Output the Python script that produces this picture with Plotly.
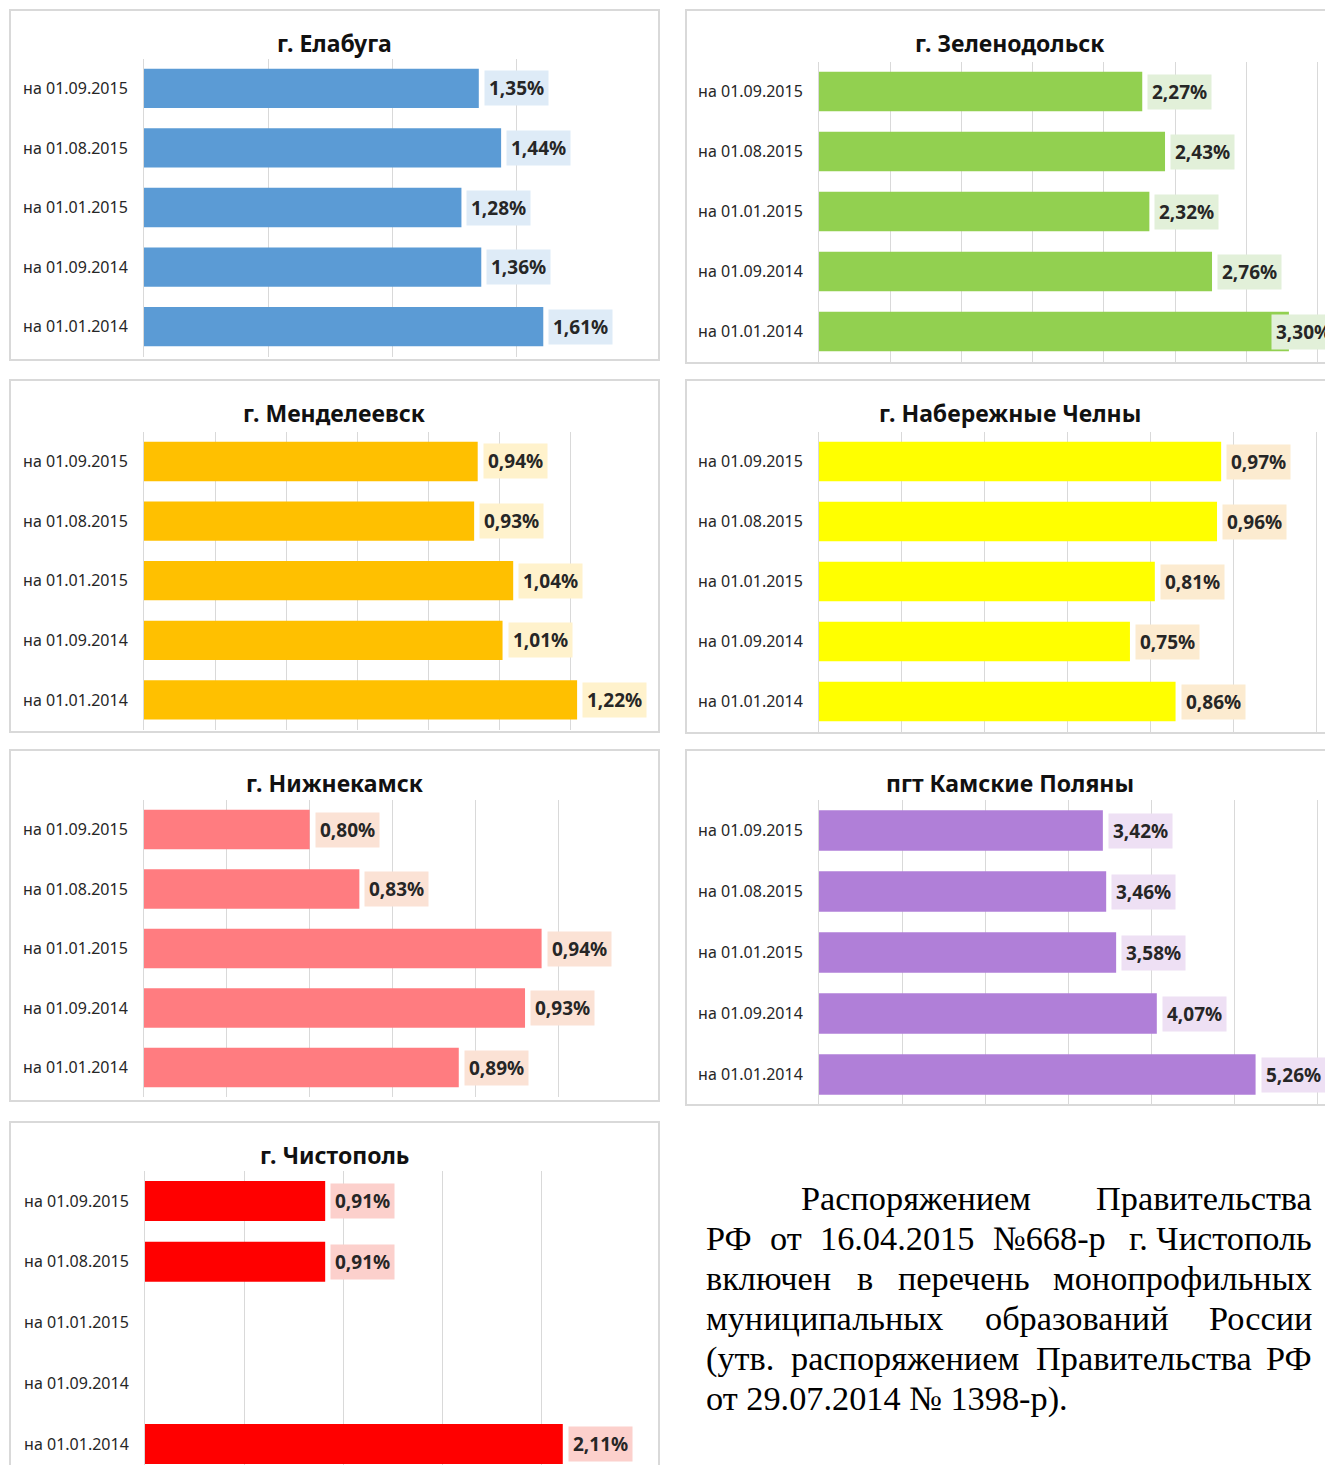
import plotly.graph_objects as go

W, H = 1325, 1465

# ---------------- data ----------------
categories = ["на 01.09.2015", "на 01.08.2015", "на 01.01.2015", "на 01.09.2014", "на 01.01.2014"]

titles = ["г. Елабуга", "г. Зеленодольск", "г. Менделеевск", "г. Набережные Челны",
          "г. Нижнекамск", "пгт Камские Поляны", "г. Чистополь"]

elabuga = [1.35, 1.44, 1.28, 1.36, 1.61]
zelenodolsk = [2.27, 2.43, 2.32, 2.76, 3.30]
mendeleevsk = [0.94, 0.93, 1.04, 1.01, 1.22]
chelny = [0.97, 0.96, 0.81, 0.75, 0.86]
nizhnekamsk = [0.80, 0.83, 0.94, 0.93, 0.89]
kamskie = [3.42, 3.46, 3.58, 4.07, 5.26]
chistopol = [0.91, 0.91, None, None, 2.11]

series = [elabuga, zelenodolsk, mendeleevsk, chelny, nizhnekamsk, kamskie, chistopol]

note_lines = [
    ["Распоряжением", "Правительства"],
    ["РФ", "от", "16.04.2015", "№668-р", "г.\u00a0Чистополь"],
    ["включен", "в", "перечень", "монопрофильных"],
    ["муниципальных", "образований", "России"],
    ["(утв.", "распоряжением", "Правительства", "РФ"],
    ["от 29.07.2014 № 1398-р)."],
]
note_justify = [True, True, True, True, True, False]

# ---------------- layout / styles (pixels) ----------------
bar_colors = ["#5B9BD5", "#92D050", "#FFC000", "#FFFF00", "#FF7C80", "#B07FD8", "#FF0000"]
label_bg = ["#DEEBF7", "#E2F0D9", "#FFF2CC", "#FCEBD0", "#FBE2D5", "#EEE0F4", "#FCD0CC"]

# chart-area right edge (px) used to keep data labels inside the chart, like Excel does
panels = [
    dict(px=(144, 640), py=(58.5, 356.5), xr=(0, 2.0), dt=0.5, yb=4.5, box=(10, 10, 659, 360), ty=43, edge=655),
    dict(px=(819, 1325), py=(61.5, 361.5), xr=(0, 506 / 142.4), dt=0.5, yb=4.5, box=(686, 10, 1345, 363), ty=43, edge=1336),
    dict(px=(144, 641), py=(431.7, 729.7), xr=(0, 1.4), dt=0.2, yb=4.5, box=(10, 380, 659, 732), ty=413, edge=655),
    dict(px=(819, 1325), py=(431.5, 731.5), xr=(0, 506 / 414.6), dt=0.2, yb=4.5, box=(686, 380, 1345, 733), ty=413, edge=1336),
    dict(px=(144, 641), py=(799.75, 1097.25), xr=(0.70, 1.00), dt=0.05, yb=4.5, box=(10, 750, 659, 1101), ty=783, edge=655),
    dict(px=(819, 1325), py=(800, 1105), xr=(0, 506 / 83.0), dt=1.0, yb=4.5, box=(686, 750, 1345, 1105), ty=783, edge=1336),
    dict(px=(145, 640), py=(1170.6, 1465), xr=(0, 2.5), dt=0.5, yb=-0.5 + (1465 - 1170.6) / 60.75,
         box=(10, 1122, 659, 1490), ty=1155, edge=655),
]
LABEL_W = 66  # approx. data-label box width in px

def fx(p):
    return p / W

def fy(p):
    return 1 - p / H

fig = go.Figure()
annotations = []
shapes = []
layout = {}

for i, (vals, pan) in enumerate(zip(series, panels)):
    n = "" if i == 0 else str(i + 1)
    xa, ya = "x" + n, "y" + n
    fig.add_trace(go.Bar(
        x=vals, y=categories, orientation="h", xaxis=xa, yaxis=ya,
        marker=dict(color=bar_colors[i], line=dict(width=0)),
        width=0.66, hoverinfo="skip", showlegend=False,
    ))
    layout["xaxis" + n] = dict(
        domain=[fx(pan["px"][0]), fx(pan["px"][1])], anchor=ya,
        range=list(pan["xr"]), tick0=0, dtick=pan["dt"], showticklabels=False,
        showgrid=True, gridcolor="#D9D9D9", gridwidth=1, zeroline=False, showline=False,
        fixedrange=True,
    )
    layout["yaxis" + n] = dict(
        domain=[fy(pan["py"][1]), fy(pan["py"][0])], anchor=xa,
        type="category", categoryorder="array", categoryarray=categories,
        range=[pan["yb"], -0.5], showgrid=False, zeroline=False,
        showline=True, linecolor="#D9D9D9", linewidth=1,
        ticks="", ticklabelstandoff=12,
        tickfont=dict(family="Noto Sans", size=16, color="#262626"),
        fixedrange=True,
    )
    x0p, x1p = pan["px"]
    r0, r1 = pan["xr"]
    for cat, v in zip(categories, vals):
        if v is None:
            continue
        end_px = x0p + (v - r0) / (r1 - r0) * (x1p - x0p)
        lab = dict(
            y=cat, yref=ya, yanchor="middle", showarrow=False,
            text="<b>" + f"{v:.2f}".replace(".", ",") + "%</b>",
            font=dict(family="Noto Sans", size=19, color="#262626"),
            bgcolor=label_bg[i], borderpad=4,
        )
        if end_px + 5 + LABEL_W > pan["edge"]:
            lab.update(x=fx(pan["edge"]), xref="paper", xanchor="right")
        else:
            lab.update(x=v, xref=xa, xanchor="left", xshift=5)
        annotations.append(lab)
    bx0, by0, bx1, by1 = pan["box"]
    shapes.append(dict(type="rect", xref="paper", yref="paper",
                       x0=fx(bx0), x1=fx(bx1), y0=fy(by1), y1=fy(by0),
                       line=dict(color="#D9D9D9", width=2), layer="below"))
    cx = (bx0 + bx1) / 2 if bx1 < W else 1010
    annotations.append(dict(
        x=fx(cx), y=fy(pan["ty"]), xref="paper", yref="paper",
        xanchor="center", yanchor="middle", showarrow=False,
        text="<b>" + titles[i] + "</b>",
        font=dict(family="Noto Sans", size=23, color="#111111"),
    ))

# ---- justified serif note (Times metrics, em units) ----
TW = {
    "Р": .556, "П": .722, "Ф": .76, "Ч": .70, "С": .667,
    "а": .444, "б": .50, "в": .472, "г": .41, "е": .444, "ж": .691, "з": .395,
    "и": .535, "й": .535, "к": .486, "л": .499, "м": .633, "н": .535, "о": .50,
    "п": .535, "р": .50, "с": .444, "т": .437, "у": .50, "ф": .648, "х": .50,
    "ц": .535, "ч": .503, "ы": .672, "ь": .456, "ю": .73, "я": .486,
    ".": .25, ",": .25, "-": .333, "(": .333, ")": .333, "№": .96, " ": .25, "\u00a0": .25,
}
NOTE_SIZE = 34.3

def text_w(s):
    return sum(TW.get(c, .5) for c in s) * NOTE_SIZE

left_edge, indent, right_edge = 705, 800, 1313
note_font = dict(family="Liberation Serif", size=NOTE_SIZE, color="#000000")
for li, words in enumerate(note_lines):
    yline = 1198 + 40 * li
    start = indent if li == 0 else left_edge
    if note_justify[li] and len(words) > 1:
        widths = [text_w(w) for w in words]
        gap = (right_edge - start - sum(widths)) / (len(words) - 1)
        xpos = start
        for k, w in enumerate(words):
            last = k == len(words) - 1
            annotations.append(dict(
                x=fx(right_edge if last else xpos), y=fy(yline), xref="paper", yref="paper",
                xanchor="right" if last else "left", yanchor="middle", showarrow=False,
                text=w, font=note_font, borderpad=0))
            xpos += widths[k] + gap
    else:
        annotations.append(dict(
            x=fx(start), y=fy(yline), xref="paper", yref="paper",
            xanchor="left", yanchor="middle", showarrow=False,
            text=" ".join(words), font=note_font, borderpad=0))

fig.update_layout(
    width=W, height=H, margin=dict(l=0, r=0, t=0, b=0),
    paper_bgcolor="white", plot_bgcolor="white",
    showlegend=False, bargap=0.34,
    annotations=annotations, shapes=shapes, **layout,
)

fig.write_html("out.html", config={"displayModeBar": False},
               post_script="document.body.style.margin='0';")
